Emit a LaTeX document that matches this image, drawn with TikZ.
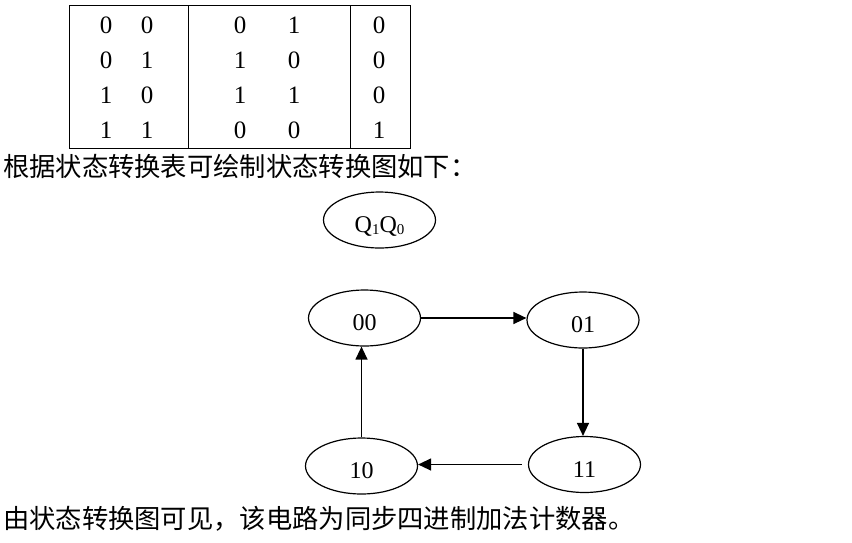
\documentclass[tikz,border=0pt]{standalone}
\usepackage{fontspec}
\setmainfont{Liberation Serif}
\newfontfamily\cjk{Noto Sans CJK SC}
\usetikzlibrary{arrows.meta,shapes.geometric}
\tikzset{
  state/.style={draw, ellipse, line width=1.2pt, minimum width=112pt, minimum height=56pt, inner sep=0pt, text height=25pt, text depth=0pt, font=\fontsize{24}{28}\selectfont},
  trans/.style={line width=1.3pt, -{Triangle[length=13pt,width=12pt]}},
  grid/.style={line width=1pt},
  digit/.style={font=\fontsize{25}{28}\selectfont, inner sep=0pt, text height=17pt, text depth=0pt},
  cn/.style={font=\cjk\fontsize{26.3}{30}\selectfont, inner sep=0pt, anchor=west},
  subs/.style={}
}
\newcommand{\subdig}[1]{\raisebox{-0.08em}{\fontsize{15}{16}\selectfont #1}}
\begin{document}
\begin{tikzpicture}[x=1pt,y=-1pt]
\useasboundingbox (0,0) rectangle (852,542);
% table
\draw[grid] (69,5) rectangle (410,148);
\draw[grid] (188,5) -- (188,148);
\draw[grid] (350,5) -- (350,148);
\foreach \r/\y/\a/\b/\c/\d/\e in {1/25/0/0/0/1/0, 2/60/0/1/1/0/0, 3/95/1/0/1/1/0, 4/130/1/1/0/0/1}{
  \node[digit] (ta\r) at (106,\y) {\a};
  \node[digit] (tb\r) at (147,\y) {\b};
  \node[digit] (tc\r) at (240,\y) {\c};
  \node[digit] (td\r) at (294,\y) {\d};
  \node[digit] (te\r) at (379,\y) {\e};
}
\node[cn] (line1) at (3,166) {根据状态转换表可绘制状态转换图如下：};
% legend
\node[state] (legend) at (379.5,220) {Q\subdig{1}Q\subdig{0}};
% states
\node[state] (n00) at (364.5,318) {00};
\node[state] (n01) at (583,320) {01};
\node[state] (n10) at (361.5,466) {10};
\node[state] (n11) at (584.5,464.5) {11};
\draw[trans] (n00.east) -- (n00.east -| n01.west);
\draw[trans] (n01.south) -- (n01.south |- n11.north);
\draw[trans, shorten <=6pt] (n11.west) -- (n11.west -| n10.east);
\draw[trans] (n10.north) -- (n10.north |- n00.south);
\node[cn] (line2) at (3,519) {由状态转换图可见，该电路为同步四进制加法计数器。};
\end{tikzpicture}
\end{document}
